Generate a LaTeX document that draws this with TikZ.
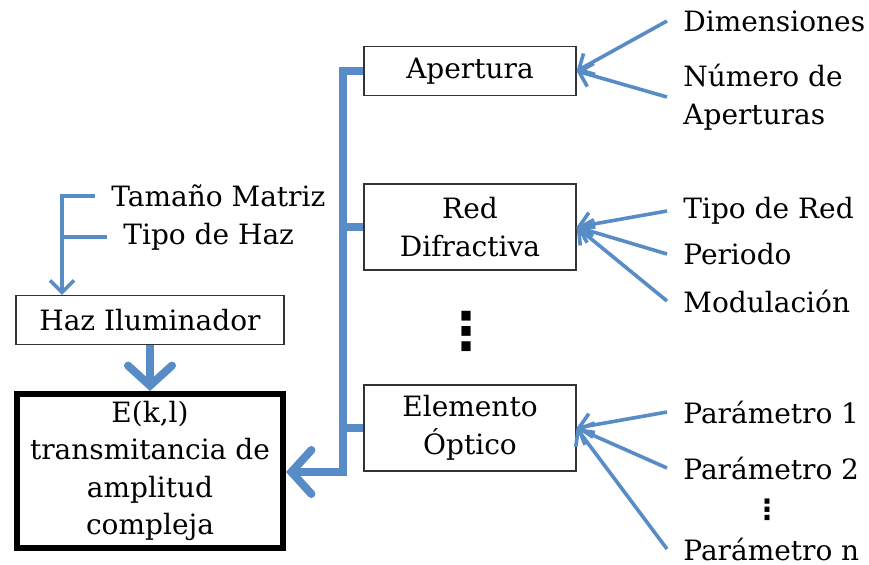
\documentclass[tikz,border=0pt]{standalone}
\usepackage{fontspec}
\setmainfont{DejaVu Serif}
\newfontfamily\symfont{DejaVu Sans}
\usetikzlibrary{calc,arrows.meta}
\definecolor{lineblue}{RGB}{88,140,198}

\begin{document}
\begin{tikzpicture}[x=0.5pt,y=-0.5pt,
  txt/.style={font=\fontsize{14}{18.8}\selectfont},
  lbl/.style={txt,anchor=west,inner xsep=8pt,inner ysep=3pt,align=left},
  blk/.style={txt,draw=black!80,line width=0.6pt,minimum width=106pt,align=center},
  thinln/.style={lineblue,line width=1.8pt},
  thinarr/.style={thinln,-{Straight Barb[length=6pt,width=12pt]}},
  fatln/.style={lineblue,line width=4pt},
  fatarr/.style={fatln,-{Straight Barb[length=10pt,width=22pt,line cap=round]}}]
\useasboundingbox (0,0) rectangle (869,564);

\node[blk,minimum height=24.5pt] (apt) at (470,71) {Apertura};
\node[blk,minimum height=43pt] (red) at (470,227) {Red\\Difractiva};
\node[blk,minimum height=43pt] (elem) at (470,428) {Elemento\\Óptico};
\node[font=\symfont\bfseries\fontsize{26}{26}\selectfont] (gap) at (466,331) {⋮};

\node[blk,minimum width=134pt,minimum height=24.5pt] (haz) at (150,320) {Haz Iluminador};
\node[blk,draw=black,line width=3pt,minimum width=133pt,minimum height=77pt] (E) at (150,471)
  {E(k,l)\\transmitancia de\\amplitud\\compleja};

\node[lbl] (tm) at (95,196) {Tamaño Matriz};
\node[lbl] (th) at (107,237) {Tipo de Haz};
\coordinate (hk) at (62,0);
\draw[thinarr] (tm.west) -| (hk |- haz.north);
\draw[thinln] (th.west) -- (th.west -| hk);

\draw[fatarr] (haz.south) -- (E.north);
\coordinate (bus) at (343,472);
\draw[fatarr] (apt.west) -| (bus) -- (E.east |- bus);
\draw[fatln] (red.west) -- (red.west -| bus);
\draw[fatln] (elem.west) -- (elem.west -| bus);

\foreach \name/\y/\text in {dim/21/Dimensiones,nap/97/{Número de\\Aperturas},tred/211/Tipo de Red,per/254/Periodo,mod/301/Modulación,pa/412/Parámetro 1,pb/468/Parámetro 2,pn/549/Parámetro n}
  \node[lbl] (\name) at (667,\y) {\text};
\node[font=\symfont\bfseries\fontsize{14}{14}\selectfont] (pdots) at (767,510) {⋮};

\foreach \src/\dst in {dim/apt,nap/apt,tred/red,per/red,mod/red,pa/elem,pb/elem,pn/elem}
  \draw[thinarr] (\src.west) -- (\dst.east);

\end{tikzpicture}
\end{document}
